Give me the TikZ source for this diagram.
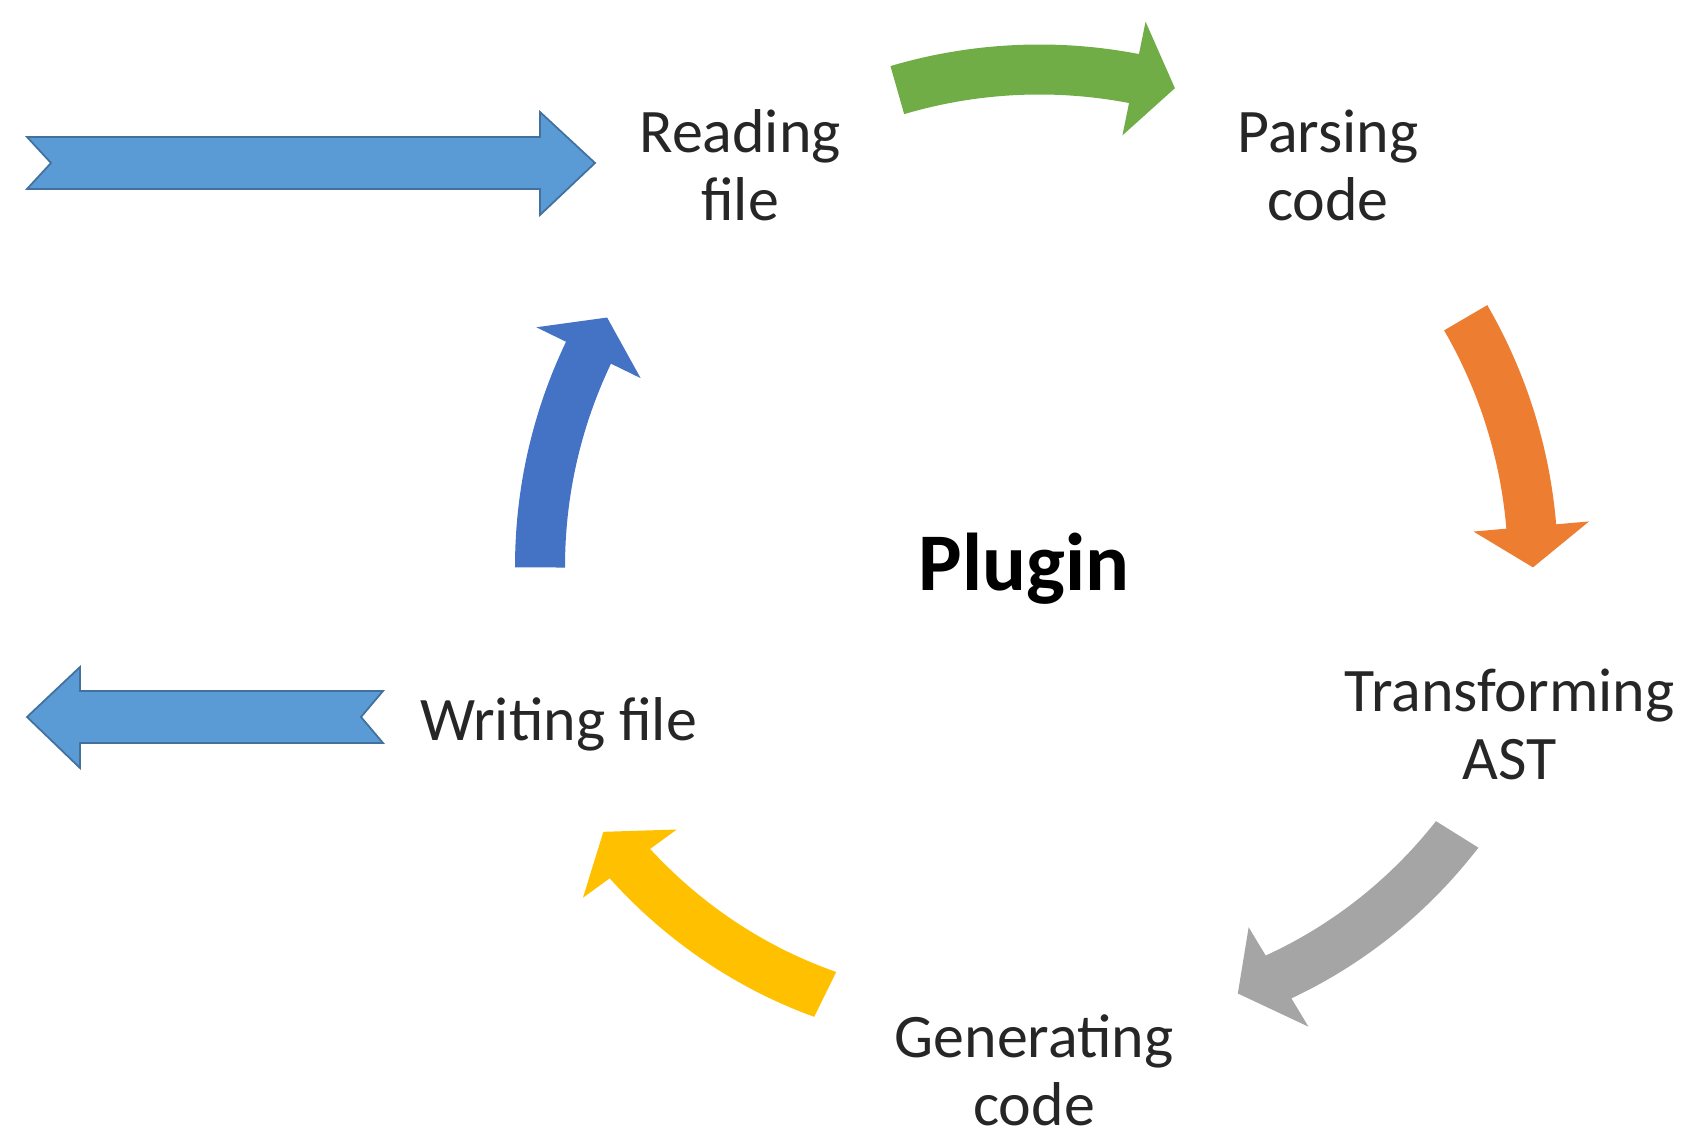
\documentclass[tikz,border=0pt]{standalone}
\usepackage{fontspec}
\setmainfont{Carlito}
\usetikzlibrary{calc}

\definecolor{accgreen}{RGB}{112,173,71}
\definecolor{accorange}{RGB}{237,125,49}
\definecolor{accgray}{RGB}{165,165,165}
\definecolor{accgold}{RGB}{255,192,0}
\definecolor{accblue}{RGB}{68,114,196}
\definecolor{lightblue}{RGB}{91,155,213}
\definecolor{edgeblue}{RGB}{65,113,156}

% curved block arrow round the centre: colour, tail angle, tail radius,
% head base angle, tip angle, tip radius
\newcommand{\cyclearrow}[6]{%
  \begin{scope}[declare function={rr(\t)=#3+(\t-(#2))/((#5)-(#2))*((#6)-(#3));}]
    \fill[#1] plot[domain=#2:#4, samples=30] (\x:{rr(\x)+25})
      -- (#4:{rr(#4)+58}) -- (#5:#6) -- (#4:{rr(#4)-58})
      -- plot[domain=#4:#2, samples=30] (\x:{rr(\x)-25}) -- cycle;
  \end{scope}}

\begin{document}
\begin{tikzpicture}[x=0.01cm, y=0.01cm,
    stagetext/.style={align=center, text=black!85, font=\fontsize{17.6}{19.4}\selectfont},
    notched/.style={fill=lightblue, draw=edgeblue, line width=0.5pt}]
    \useasboundingbox (0,0) rectangle (1698,-1131);
    \coordinate (C) at (1034,-570);

    % input and output arrows
    \filldraw[notched] (27,-137) -- (540,-137) -- (540,-112) -- (595,-163)
        -- (540,-215) -- (540,-189) -- (27,-189) -- (51,-163) -- cycle;
    \filldraw[notched] (27,-717) -- (80,-667) -- (80,-691) -- (383,-691)
        -- (361,-717) -- (383,-743) -- (80,-743) -- (80,-768) -- cycle;

    \begin{scope}[shift={(C)}]
        \cyclearrow{accgreen}{105.9}{499}{78.5}{73.7}{502}
        \cyclearrow{accorange}{30.3}{500}{5}{0.3}{499}
        \cyclearrow{accgray}{-32}{499}{-59}{-64.3}{470}
        \cyclearrow{accgold}{243.8}{473}{216}{211.3}{504}
        \cyclearrow{accblue}{179.7}{494}{154}{149.4}{496}

        \node[stagetext] (read) at (126:500) {Reading\\file};
        \node[stagetext] (parse) at (54:500) {Parsing\\code};
        \node[stagetext] (transform) at (-18:500) {Transforming\\AST};
        \node[stagetext] (generate) at (-90:500) {Generating\\code};
        \node[stagetext] (write) at (-162:500) {Writing file};
    \end{scope}

    \node[text=black, font=\bfseries\fontsize{23.3}{28}\selectfont] (plugin) at (1024,-569) {Plugin};
\end{tikzpicture}
\end{document}
